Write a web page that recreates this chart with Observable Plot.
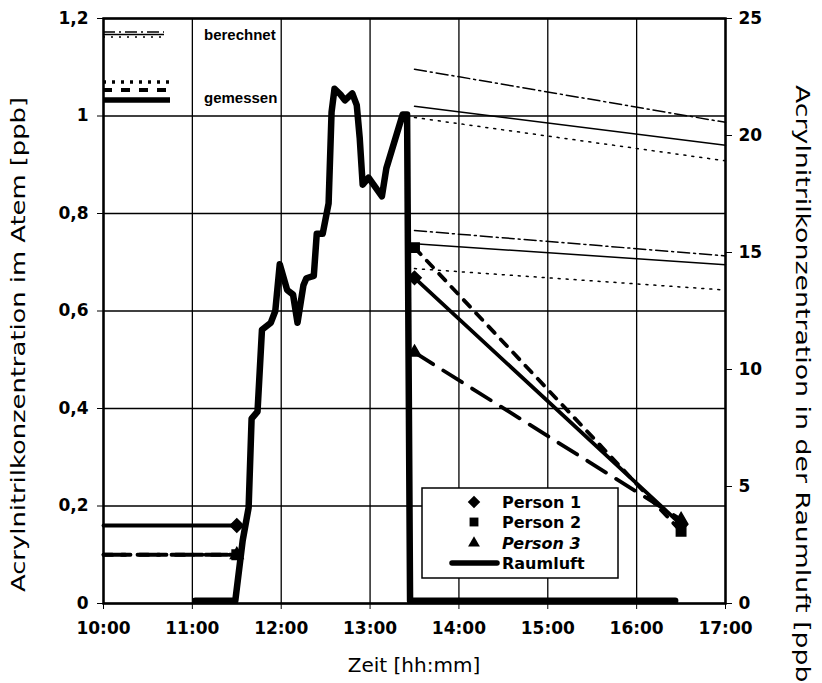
<!DOCTYPE html>
<html><head><meta charset="utf-8">
<script src="https://cdn.jsdelivr.net/npm/d3@7"></script>
<script src="https://cdn.jsdelivr.net/npm/@observablehq/plot@0.6"></script>
<style>body{margin:0;background:#fff}#chart{position:relative;width:822px;height:683px;overflow:hidden}</style>
</head><body><div id="chart"></div>
<script>
// ---------- data ----------
const xTickLabels = ["10:00","11:00","12:00","13:00","14:00","15:00","16:00","17:00"];
const yLeftTicks = [0, 0.2, 0.4, 0.6, 0.8, 1, 1.2];
const yRightTicks = [0, 5, 10, 15, 20, 25];

// Raumluft (room air, ppb, right axis)
const raumTimes = ["11:02","11:29","11:34","11:38","11:40","11:44","11:47","11:53","11:56","11:59","12:04","12:08","12:11","12:15","12:17","12:22","12:24","12:28","12:32","12:34","12:36","12:40","12:43","12:48","12:51","12:53","12:55","12:59","13:08","13:11","13:22","13:25","13:27","16:26"];
const raumPpb   = [0.12,0.12,2.7,4.1,7.9,8.2,11.7,12.0,12.5,14.5,13.4,13.2,12.0,13.6,13.9,14.0,15.8,15.8,17.1,21.0,22.0,21.75,21.5,21.8,21.3,19.9,17.9,18.2,17.4,18.6,20.9,20.9,0.12,0.12];

// measured breath concentrations (ppb, left axis)
const measTimesPre  = ["10:00","11:30"];
const measTimesPost = ["13:30","16:30"];
const person1Pre  = [0.16, 0.16];
const person2Pre  = [0.10, 0.10];
const person3Pre  = [0.10, 0.10];
const person1Post = [0.668, 0.162];
const person2Post = [0.73, 0.148];
const person3Post = [0.515, 0.172];

// calculated curves (left axis)
const calcTimes = ["13:30","17:00"];
const calcUpperA = [1.096, 0.987]; // dash-dot
const calcUpperB = [1.02, 0.94];   // solid
const calcUpperC = [0.997, 0.908]; // dotted
const calcMidA   = [0.765, 0.713]; // dash-dot
const calcMidB   = [0.738, 0.695]; // solid
const calcMidC   = [0.687, 0.643]; // dotted

// ---------- helpers ----------
const hm = s => { const [h, m] = s.split(":").map(Number); return h + m / 60; };
const toRows = (times, vals) => times.map((t, i) => ({t: hm(t), v: vals[i]}));
const sec = v => v * 1.2 / 25;
const fmtL = d => d === 0 ? "0" : d3.format(".1~f")(d).replace(".", ",");

const raum = raumTimes.map((t, i) => ({t: hm(t), v: sec(raumPpb[i])}));

const calcSeries = [
  [calcUpperA, "12,4,2,4"], [calcUpperB, null], [calcUpperC, "2,6"],
  [calcMidA, "12,4,2,4"], [calcMidB, null], [calcMidC, "2,6"]
];
const persons = [
  {pre: person1Pre, post: person1Post, dash: null, w: 3.8, sym: "diamond2", r: 6},
  {pre: person2Pre, post: person2Post, dash: "9,9", w: 3.8, sym: "square2", r: 6},
  {pre: person3Pre, post: person3Post, dash: "22,12", w: 3.8, sym: "triangle2", r: 6}
];

const marks = [
  Plot.gridX({ticks: xTickLabels.map(hm), stroke: "#000", strokeOpacity: 1, strokeWidth: 1.3}),
  Plot.gridY({ticks: yLeftTicks, stroke: "#000", strokeOpacity: 1, strokeWidth: 1.3}),
];
for (const [vals, dash] of calcSeries) {
  marks.push(Plot.line(toRows(calcTimes, vals), {x: "t", y: "v", stroke: "#000", strokeWidth: 1.5, strokeDasharray: dash ?? undefined}));
}
for (const p of persons) {
  marks.push(Plot.line(toRows(measTimesPre, p.pre), {x: "t", y: "v", stroke: "#000", strokeWidth: p.w, strokeDasharray: p.dash ?? undefined}));
  marks.push(Plot.line(toRows(measTimesPost, p.post), {x: "t", y: "v", stroke: "#000", strokeWidth: p.w, strokeDasharray: p.dash ?? undefined}));
}
for (const p of persons) {
  const pts = [toRows(measTimesPre, p.pre)[1], ...toRows(measTimesPost, p.post)];
  marks.push(Plot.dot(pts, {x: "t", y: "v", symbol: p.sym, r: p.r, fill: "#000", stroke: "#000"}));
}
marks.push(Plot.line(raum, {x: "t", y: "v", stroke: "#000", strokeWidth: 6.5, strokeLinejoin: "round"}));
marks.push(
  Plot.frame({stroke: "#000", strokeWidth: 2.5}),
  Plot.axisY({anchor: "left", ticks: yLeftTicks, tickFormat: fmtL, tickSize: 6, tickPadding: 9, label: null, fontSize: 17, fontWeight: "bold"}),
  Plot.axisY({anchor: "right", ticks: yRightTicks.map(sec), tickFormat: d => String(Math.round(d * 25 / 1.2)), tickSize: 6, tickPadding: 7, label: null, fontSize: 17, fontWeight: "bold"}),
  Plot.axisX({ticks: xTickLabels.map(hm), tickFormat: (d, i) => xTickLabels[i], tickSize: 6, tickPadding: 12, label: null, fontSize: 17, fontWeight: "bold"})
);

const chart = Plot.plot({
  width: 822, height: 683,
  marginLeft: 103, marginRight: 97, marginTop: 18, marginBottom: 80,
  x: {domain: [10, 17]},
  y: {domain: [0, 1.2]},
  style: {fontFamily: "'DejaVu Sans', sans-serif", color: "#000", background: "#fff", overflow: "visible"},
  marks
});
document.getElementById("chart").appendChild(chart);

// ---------- titles and legends ----------
const svg = d3.select(chart);
const F = "'DejaVu Sans', sans-serif";
const FA = "'Liberation Sans', Arial, sans-serif";
const txt = (x, y, f = F) => svg.append("text").attr("x", x).attr("y", y).attr("text-anchor", "start").attr("font-family", f);
svg.append("text").attr("transform", "translate(25,592) rotate(-90)").attr("text-anchor", "start")
  .attr("font-family", F).attr("font-size", 19).attr("textLength", 495).attr("lengthAdjust", "spacingAndGlyphs")
  .text("Acrylnitrilkonzentration im Atem [ppb]");
svg.append("text").attr("transform", "translate(796,85) rotate(90)").attr("text-anchor", "start")
  .attr("font-family", F).attr("font-size", 19).attr("textLength", 608).attr("lengthAdjust", "spacingAndGlyphs")
  .text("Acrylnitrilkonzentration in der Raumluft [ppb]");
svg.append("text").attr("x", 414).attr("y", 672).attr("text-anchor", "middle")
  .attr("font-family", F).attr("font-size", 20)
  .text("Zeit [hh:mm]");

// top-left legend
[[32, "12,4,2,4"], [34.5, null], [37, "2,6"]].forEach(([y, d]) => {
  svg.append("line").attr("x1", 103).attr("x2", 164).attr("y1", y).attr("y2", y)
    .attr("stroke", "#000").attr("stroke-width", 1.5).attr("stroke-dasharray", d);
});
txt(204, 40, FA).attr("font-size", 15).attr("font-weight", "bold").text("berechnet");
[[82, "3,6", 3.5], [90, "9,9", 3.8], [100, null, 5.5]].forEach(([y, d, w]) => {
  svg.append("line").attr("x1", 103).attr("x2", 170).attr("y1", y).attr("y2", y)
    .attr("stroke", "#000").attr("stroke-width", w).attr("stroke-dasharray", d);
});
txt(204, 103, FA).attr("font-size", 15).attr("font-weight", "bold").text("gemessen");

// bottom-right legend
svg.append("rect").attr("x", 422).attr("y", 488).attr("width", 196).attr("height", 90)
  .attr("fill", "#fff").attr("stroke", "#000").attr("stroke-width", 1.5);
const sym = {diamond2: d3.symbolDiamond2, square2: d3.symbolSquare2, triangle2: d3.symbolTriangle2};
const items = [["Person 1", "diamond2", 502, "normal"], ["Person 2", "square2", 522, "normal"], ["Person 3", "triangle2", 543, "italic"]];
items.forEach(([label, s, y, st]) => {
  svg.append("path").attr("transform", `translate(474,${y})`).attr("d", d3.symbol(sym[s], 100)()).attr("fill", "#000");
  txt(502, y + 6).attr("font-size", 16).attr("font-weight", "bold").attr("font-style", st).text(label);
});
svg.append("line").attr("x1", 452).attr("x2", 497).attr("y1", 563).attr("y2", 563).attr("stroke", "#000").attr("stroke-width", 5.5).attr("stroke-linecap", "round");
txt(502, 569).attr("font-size", 16).attr("font-weight", "bold").text("Raumluft");
</script>
</body></html>
